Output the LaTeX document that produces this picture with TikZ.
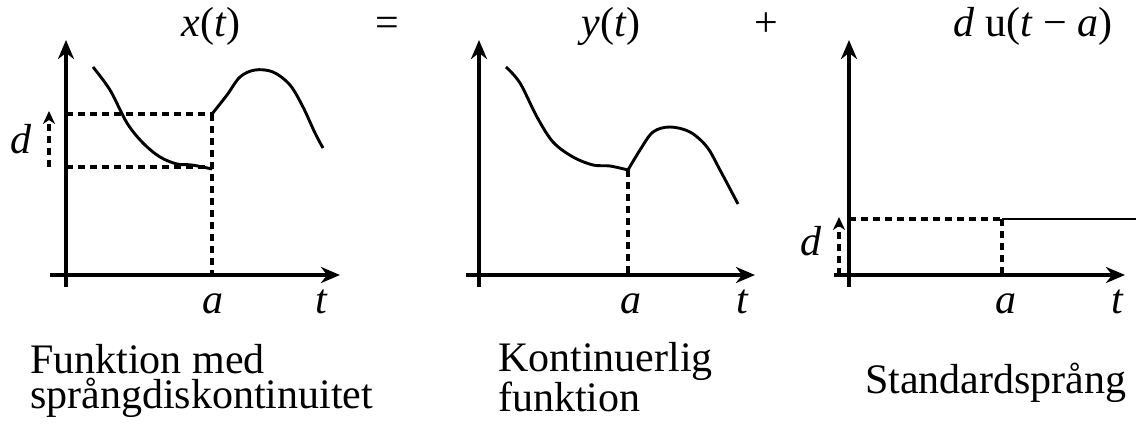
\documentclass[tikz,border=0pt]{standalone}
\usepackage{fontspec}
\setmainfont{Liberation Serif}
\usetikzlibrary{arrows.meta}
\begin{document}
\begin{tikzpicture}[x=1pt,y=-1pt,
  axis/.style={line width=3.6pt,-{Stealth[length=19pt,width=16pt,inset=6pt]}},
  curve/.style={line width=2.9pt},
  dsh/.style={line width=3.1pt,dash pattern=on 7pt off 5pt},
  darrow/.style={dsh,-{Stealth[length=13pt,width=12pt,inset=4pt]}},
  txt/.style={font=\fontsize{42}{42}\selectfont,inner sep=0pt,anchor=base},
  captxt/.style={inner sep=0pt,align=left,anchor=base west}]
\useasboundingbox (0,0) rectangle (1136,428);
% titles
\node[txt] (tx) at (211,37) {\textit{x}(\textit{t})};
\node[txt] (teq) at (387,37) {=};
\node[txt] (ty) at (611,37) {\textit{y}(\textit{t})};
\node[txt] (tplus) at (766,37) {+};
\node[txt] (tu) at (1033,37) {\textit{d} u(\textit{t} − \textit{a})};
% ---- panel 1
\coordinate (yb1) at (66,287); \coordinate (yt1) at (66,40);
\coordinate (xl1) at (50,275); \coordinate (xr1) at (340,275);
\draw[axis] (yb1) -- (yt1);
\draw[axis] (xl1) -- (xr1);
\coordinate (hi1) at (212,114); \coordinate (lo1) at (212,167);
\coordinate (ah1) at (66,114); \coordinate (al1) at (66,167);
\coordinate (ab1) at (212,275);
\draw[dsh] (ah1) -- (hi1);
\draw[dsh] (al1) -- (lo1);
\draw[dsh] (hi1) -- (ab1);
\coordinate (db1) at (49,167); \coordinate (dt1) at (49,111);
\draw[darrow] (db1) -- (dt1);
\draw[curve] plot[smooth,tension=0.55] coordinates {(93,67) (110,90) (127,123) (143,143) (160,157) (177,164) (192,165) (212,169)};
\draw[curve] plot[smooth,tension=0.55] coordinates {(212,114) (227,95) (240,77) (255,70) (273,72) (290,85) (303,107) (315,133) (323,148)};
\node[txt] (d1) at (21,153) {\textit{d}};
\node[txt] (a1) at (213,313) {\textit{a}};
\node[txt] (t1) at (322,313) {\textit{t}};
% ---- panel 2
\coordinate (yb2) at (479,287); \coordinate (yt2) at (479,40);
\coordinate (xl2) at (466,275); \coordinate (xr2) at (755,275);
\draw[axis] (yb2) -- (yt2);
\draw[axis] (xl2) -- (xr2);
\coordinate (p2) at (628,170); \coordinate (ab2) at (628,275);
\draw[dsh] (p2) -- (ab2);
\draw[curve] plot[smooth,tension=0.55] coordinates {(506,67) (520,83) (537,117) (553,142) (573,157) (593,165) (610,166) (628,170)};
\draw[curve] plot[smooth,tension=0.55] coordinates {(628,170) (640,150) (653,132) (670,127) (690,132) (707,147) (720,170) (738,204)};
\node[txt] (a2) at (631,313) {\textit{a}};
\node[txt] (t2) at (743,313) {\textit{t}};
% ---- panel 3
\coordinate (yb3) at (849,287); \coordinate (yt3) at (849,40);
\coordinate (xl3) at (834,275); \coordinate (xr3) at (1125,275);
\draw[axis] (yb3) -- (yt3);
\draw[axis] (xl3) -- (xr3);
\coordinate (s3) at (1002,219); \coordinate (ah3) at (849,219);
\coordinate (ab3) at (1002,275); \coordinate (e3) at (1136,219);
\draw[dsh] (ah3) -- (s3);
\draw[dsh] (s3) -- (ab3);
\draw[line width=2.9pt] (s3) -- (e3);
\coordinate (db3) at (839,275); \coordinate (dt3) at (839,217);
\draw[darrow] (db3) -- (dt3);
\node[txt] (d3) at (811,255) {\textit{d}};
\node[txt] (a3) at (1006,313) {\textit{a}};
\node[txt] (t3) at (1118,313) {\textit{t}};
% captions
\node[captxt,font=\fontsize{42}{35}\selectfont] (c1) at (30,408) {Funktion med\\språngdiskontinuitet};
\node[captxt,font=\fontsize{42}{38}\selectfont] (c2) at (498,411) {Kontinuerlig\\funktion};
\node[txt,anchor=base west] (c3) at (865,393) {Standardsprång};
\end{tikzpicture}
\end{document}
